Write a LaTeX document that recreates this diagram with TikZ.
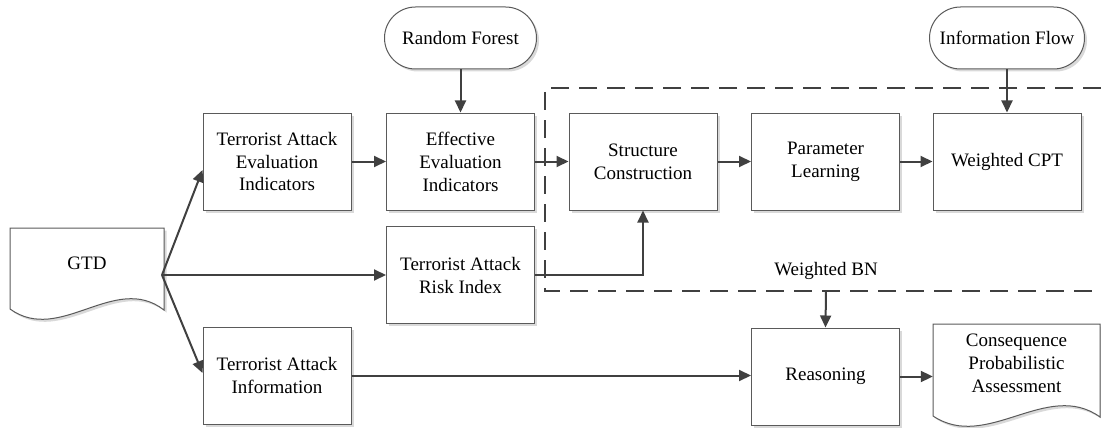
\documentclass[tikz,border=0pt]{standalone}
\usepackage{fontspec}
\setmainfont{Liberation Serif}
\usetikzlibrary{arrows.meta,shadows}
\definecolor{linegray}{HTML}{404040}
\definecolor{boxgray}{HTML}{5A5A5A}

\begin{document}
\begin{tikzpicture}[x=1pt,y=-1pt,
    font=\fontsize{19}{23}\selectfont,
    boxshadow/.style={drop shadow={shadow xshift=2.5pt,shadow yshift=-2.5pt,fill=black!15,opacity=1}},
    procbox/.style={draw=boxgray, line width=1pt, fill=white, boxshadow,
        minimum width=148pt, minimum height=97pt, align=center, inner sep=2pt},
    termbox/.style={procbox, rounded corners=31pt, minimum width=152pt, minimum height=62pt},
    docshape/.style={draw=boxgray, line width=1pt, fill=white, boxshadow},
    link/.style={draw=linegray, line width=2pt, -{Triangle[length=12pt,width=11pt]}}]
    \useasboundingbox (0,0) rectangle (1101,428);

    % Weighted BN frame
    \draw[linegray, line width=2pt, dash pattern=on 18pt off 10pt]
        (1101,88) -- (545,88) -- (545,291) -- (1101,291);
    \node (wbn) at (826,271) {Weighted BN};
    \coordinate (bnout) at (826,291);

    % Documents
    \draw[docshape] (10,228) -- (164,228) -- (164,310)
        .. controls (115,272) and (60,345) .. (10,309) -- cycle;
    \node[minimum width=154pt] (gtd) at (87,263) {GTD};
    \coordinate (gtdout) at (162,275);

    \draw[docshape] (933,324) -- (1100,324) -- (1100,417)
        .. controls (1047,379) and (987,452) .. (933,416) -- cycle;
    \node[minimum width=167pt, align=center] (cpa) at (1016.5,363)
        {Consequence\\Probabilistic\\Assessment};

    % Terminals
    \node[termbox] (rf) at (460.5,38) {Random Forest};
    \node[termbox, minimum width=155pt] (iflow) at (1007,38) {Information Flow};

    % Process boxes
    \node[procbox] (taei) at (277,161.5) {Terrorist Attack\\Evaluation\\Indicators};
    \node[procbox] (eei) at (460.5,161.5) {Effective\\Evaluation\\Indicators};
    \node[procbox] (tari) at (460.5,275) {Terrorist Attack\\Risk Index};
    \node[procbox] (tai) at (277,375.5) {Terrorist Attack\\Information};
    \node[procbox] (sc) at (643,161.5) {Structure\\Construction};
    \node[procbox] (pl) at (825.5,161.5) {Parameter\\Learning};
    \node[procbox] (wcpt) at (1007,161.5) {Weighted CPT};
    \node[procbox] (reason) at (825.5,376.5) {Reasoning};

    % Connectors
    \draw[link] (gtdout) -- ([yshift=-8.5pt]taei.west);
    \draw[link] (gtdout) -- (tari.west);
    \draw[link] (gtdout) -- ([yshift=2.5pt]tai.west);
    \draw[link] (taei) -- (eei);
    \draw[link] (rf) -- (eei);
    \draw[link] (eei) -- (sc);
    \draw[link] (sc) -- (pl);
    \draw[link] (pl) -- (wcpt);
    \draw[link] (iflow) -- (wcpt);
    \draw[link] (tari.east) -| (sc.south);
    \draw[link] (bnout) -- (reason.north);
    \draw[link] (tai.east) -- (tai.east -| reason.west);
    \draw[link] (reason.east) -- (reason.east -| cpa.west);

\end{tikzpicture}
\end{document}
